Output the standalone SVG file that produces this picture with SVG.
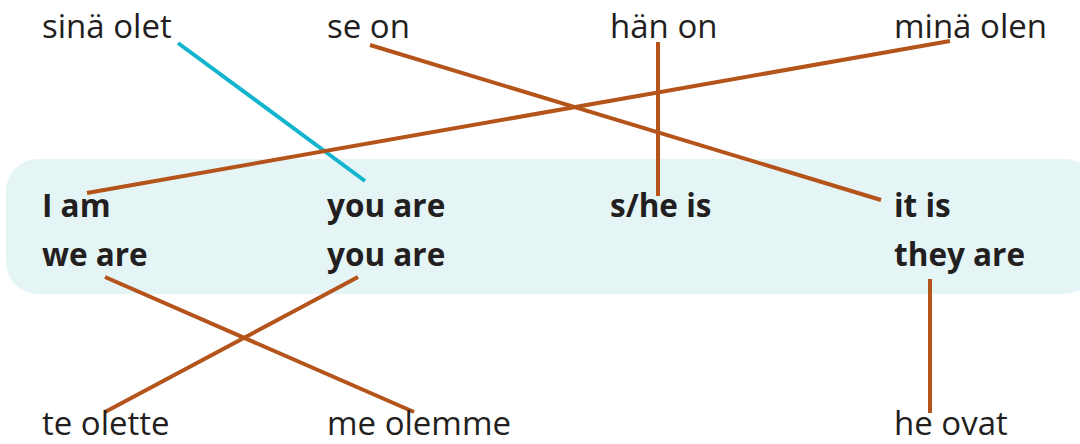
<svg xmlns="http://www.w3.org/2000/svg" width="1080" height="444" viewBox="0 0 1080 444">
<style>
.fi{font-family:"Open Sans","Liberation Sans",sans-serif;font-size:33px;fill:#231f20}
.en{font-family:"Open Sans","Liberation Sans",sans-serif;font-size:31.5px;font-weight:bold;fill:#231f20}
.br{stroke:#b5541a;stroke-width:4;fill:none}
.cy{stroke:#13b5ce;stroke-width:4;fill:none}
</style>
<rect x="6" y="159" width="1090" height="135" rx="32" fill="#e5f4f5"/>
<g id="connectors">
<line class="cy" x1="178" y1="43" x2="365" y2="181"/>
<line class="br" x1="370" y1="45" x2="881" y2="200"/>
<line class="br" x1="658" y1="42" x2="658" y2="196"/>
<line class="br" x1="950" y1="41" x2="87" y2="193"/>
<line class="br" x1="105" y1="277" x2="414" y2="412"/>
<line class="br" x1="358" y1="277" x2="105" y2="412"/>
<line class="br" x1="930" y1="279" x2="930" y2="413"/>
</g>
<g id="n-sina-olet"><text class="fi" x="42" y="38">sinä olet</text></g>
<g id="n-se-on"><text class="fi" x="327" y="38">se on</text></g>
<g id="n-han-on"><text class="fi" x="610" y="38">hän on</text></g>
<g id="n-mina-olen"><text class="fi" x="894" y="38">minä olen</text></g>
<g id="n-i-am"><text class="en" x="42" y="217">I am</text></g>
<g id="n-you-are-1"><text class="en" x="327" y="217">you are</text></g>
<g id="n-she-is"><text class="en" x="610" y="217">s/he is</text></g>
<g id="n-it-is"><text class="en" x="894" y="217">it is</text></g>
<g id="n-we-are"><text class="en" x="42" y="266">we are</text></g>
<g id="n-you-are-2"><text class="en" x="327" y="266">you are</text></g>
<g id="n-they-are"><text class="en" x="894" y="266">they are</text></g>
<g id="n-te-olette"><text class="fi" x="42" y="435">te olette</text></g>
<g id="n-me-olemme"><text class="fi" x="327" y="435">me olemme</text></g>
<g id="n-he-ovat"><text class="fi" x="894" y="435">he ovat</text></g>
</svg>
